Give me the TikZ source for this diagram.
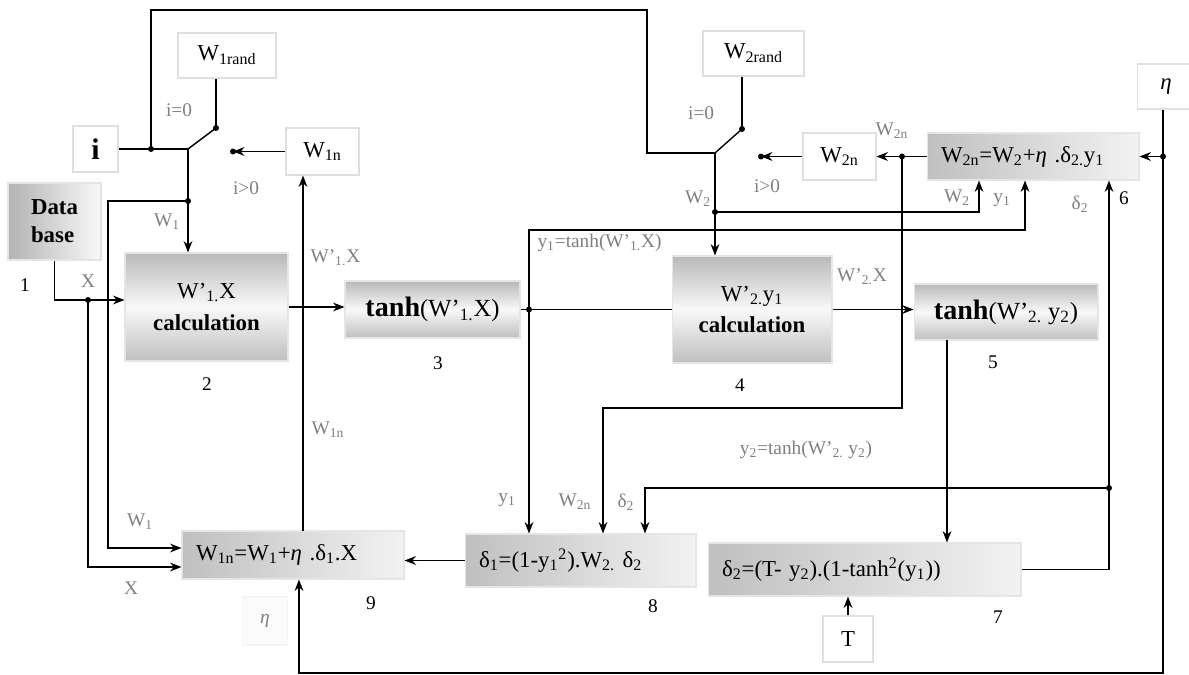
\documentclass[tikz,border=0pt]{standalone}
\usepackage{fontspec}
\setmainfont{Liberation Serif}
\usetikzlibrary{arrows.meta,calc}
\newcommand{\fs}[1]{\fontsize{#1}{#1}\selectfont}
\newcommand{\sbs}[1]{\textsubscript{#1}}
\newcommand{\sps}[1]{\textsuperscript{#1}}
\begin{document}
\begin{tikzpicture}[x=0.02cm,y=-0.02cm,
  line width=0.8pt,
  >={Stealth[length=6.5pt,width=5pt]},
  wbox/.style={draw=gray!25,fill=white,line width=0.6pt,inner sep=0pt,font=\fs{13}},
  gbox/.style={draw=gray!20,line width=0.6pt,inner sep=0pt},
  vshade/.style={top color=gray!55,bottom color=gray!50,middle color=gray!5},
  dshade/.style={left color=gray!50,right color=gray!10,middle color=gray!30},
  eqbox/.style={gbox,dshade,inner xsep=0.28cm,align=left,font=\fs{13}},
  lbl/.style={text=gray,font=\fs{11}},
  num/.style={font=\fs{11}},
  jdot/.style={fill=black}
]
\useasboundingbox (0,0) rectangle (1189,675);
\fill[white] (0,0) rectangle (1189,675);

% ---------- blocks ----------
\node[gbox,left color=gray!60,right color=gray!5,minimum width=1.86cm,minimum height=1.54cm,align=left,font=\fontsize{13}{16}\selectfont] (db) at (54.5,221.5) {\textbf{Data}\\\textbf{base}};
\node[wbox,minimum width=0.9cm,minimum height=0.92cm,font=\fs{17}] (ibox) at (95.5,149) {\textbf{i}};
\node[wbox,minimum width=1.96cm,minimum height=0.9cm] (w1r) at (227,55.5) {W\sbs{1rand}};
\node[wbox,minimum width=1.46cm,minimum height=0.94cm] (w1n) at (322.5,151.5) {W\sbs{1n}};
\node[gbox,vshade,minimum width=3.26cm,minimum height=2.16cm,align=center,font=\fontsize{13}{18}\selectfont] (c2) at (206.5,307) {W’\sbs{1.}X\\\textbf{calculation}};
\node[gbox,vshade,minimum width=3.5cm,minimum height=1.14cm,font=\fs{14}] (tb3) at (432.5,309.5) {\textbf{\fs{16}tanh}(W’\sbs{1.}X)};
\node[gbox,vshade,minimum width=3.2cm,minimum height=2.14cm,align=center,font=\fontsize{13}{18}\selectfont] (c4) at (752,309.5) {W’\sbs{2.}y\sbs{1}\\\textbf{calculation}};
\node[gbox,vshade,minimum width=3.68cm,minimum height=1.12cm,font=\fs{14}] (tb5) at (1006,312) {\textbf{\fs{16}tanh}(W’\sbs{2.} y\sbs{2})};
\node[wbox,minimum width=2.02cm,minimum height=0.9cm] (w2r) at (753.5,53.5) {W\sbs{2rand}};
\node[wbox,minimum width=1.46cm,minimum height=0.94cm] (w2n) at (839.5,156.5) {W\sbs{2n}};
\node[eqbox,text width=3.68cm,minimum height=0.94cm] (b6) at (1033,156.5) {W\sbs{2n}=W\sbs{2}+\textit{η} .δ\sbs{2.}y\sbs{1}};
\node[wbox,minimum width=1.14cm,minimum height=0.9cm] (eta) at (1166,86.5) {\textit{η}};
\node[eqbox,text width=5.7cm,minimum height=1.06cm] (b7) at (864.5,569.5) {δ\sbs{2}=(T- y\sbs{2}).(1-tanh\sps{2}(y\sbs{1}))};
\node[wbox,minimum width=1.0cm,minimum height=0.92cm] (tbox) at (848,639) {T};
\node[eqbox,text width=4.06cm,minimum height=1.06cm] (b8) at (580.5,560.5) {δ\sbs{1}=(1-y\sbs{1}\sps{2}).W\sbs{2.} δ\sbs{2}};
\node[eqbox,text width=3.88cm,minimum height=0.96cm] (b9) at (293,555) {W\sbs{1n}=W\sbs{1}+\textit{η} .δ\sbs{1}.X};
\node[draw=gray!8,fill=gray!3,minimum width=0.9cm,minimum height=0.96cm,inner sep=0pt,text=gray,font=\fs{11}] (eta9) at (265,621) {\textit{η}};

% ---------- switch and junction points ----------
\coordinate (p1) at (188,149);
\coordinate (s1a) at (216,128);
\coordinate (s1b) at (233,151.5);
\coordinate (j1) at (151,149);
\coordinate (j2) at (188,201);
\coordinate (k1) at (108,201);
\coordinate (k2) at (108,548);
\coordinate (jx) at (88,300);
\coordinate (k3) at (88,567);
\coordinate (cA) at (151,10);
\coordinate (cB) at (647,10);
\coordinate (cC) at (647,153);
\coordinate (p2) at (715,153);
\coordinate (s2a) at (742,129);
\coordinate (s2b) at (761,156.5);
\coordinate (j3) at (715,212);
\coordinate (k4) at (979,212);
\coordinate (jy) at (529,309.5);
\coordinate (k5) at (529,230);
\coordinate (k6) at (1025,230);
\coordinate (jw) at (902,156.5);
\coordinate (k7) at (902,408);
\coordinate (k8) at (603,408);
\coordinate (je) at (1163,156.5);
\coordinate (k9) at (1163,673);
\coordinate (k10) at (299,673);
\coordinate (k11) at (947,340);
\coordinate (k12) at (1109,569.5);
\coordinate (jd) at (1109,488);
\coordinate (k13) at (645,488);
\coordinate (k14) at (303,531);

% ---------- connectors ----------
\draw (ibox.east) -- (p1);
\draw (p1) -- (s1a);
\draw (w1r.south -| s1a) -- (s1a);
\draw[->] (w1n.west) -- (s1b);
\draw[->] (p1) -- (p1 |- c2.north);
\draw[->] (j2) -- (k1) -- (k2) -- (k2 -| b9.west);
\draw[->] (db.south) |- (jx) -- (jx -| c2.west);
\draw[->] (jx) -- (k3) -- (k3 -| b9.west);
\draw (j1) -- (cA) -- (cB) -- (cC) -- (p2);
\draw (p2) -- (s2a);
\draw (w2r.south -| s2a) -- (s2a);
\draw[->] (w2n.west) -- (s2b);
\draw[->] (p2) -- (p2 |- c4.north);
\draw[->] (j3) -- (k4) -- (k4 |- b6.south);
\draw[->] (c2.east) -- (c2.east -| tb3.west);
\draw (tb3.east) -- (tb3.east -| c4.west);
\draw[->] (jy) -- (k5) -- (k6) -- (k6 |- b6.south);
\draw[->] (jy) -- (jy |- b8.north);
\draw[->] (c4.east) -- (c4.east -| tb5.west);
\draw[->] (k14) -- (k14 |- w1n.south);
\draw[->] (b6.west) -- (w2n.east);
\draw[->] (jw) -- (k7) -- (k8) -- (k8 |- b8.north);
\draw[->] (eta.south -| je) -- (k9) -- (k10) -- (k10 |- b9.south);
\draw[->] (je) -- (b6.east);
\draw[->] (k11) -- (k11 |- b7.north);
\draw[->] (b7.east) -- (k12) -- (k12 |- b6.south);
\draw[->] (jd) -- (k13) -- (k13 |- b8.north);
\draw[->] (tbox.north) -- (tbox.north |- b7.south);
\draw[->] (b8.west) -- (b8.west -| b9.east);

% ---------- junction dots ----------
\foreach \c in {j1,j2,jx,j3,jy,jw,je,jd,s1a,s1b,s2a,s2b}
  \fill[jdot] (\c) circle (1.7pt);

% ---------- signal labels ----------
\node[lbl] (l1) at (179,110) {i=0};
\node[lbl] (l2) at (246,188) {i>0};
\node[lbl] (l3) at (167,222) {W\sbs{1}};
\node[lbl] (l4) at (88,281) {X};
\node[lbl,anchor=west] (l5) at (304,258) {W’\sbs{1.}X};
\node[lbl] (l6) at (328,430) {W\sbs{1n}};
\node[lbl] (l7) at (140,522) {W\sbs{1}};
\node[lbl] (l8) at (131,588) {X};
\node[lbl,anchor=west] (l9) at (531,243) {y\sbs{1}=tanh(W’\sbs{1.}X)};
\node[lbl] (l10) at (698,199) {W\sbs{2}};
\node[lbl] (l11) at (701,113) {i=0};
\node[lbl] (l12) at (767,186) {i>0};
\node[lbl] (l13) at (892,131) {W\sbs{2n}};
\node[lbl] (l14) at (957,198) {W\sbs{2}};
\node[lbl] (l15) at (1002,200) {y\sbs{1}};
\node[lbl] (l16) at (1080,204) {δ\sbs{2}};
\node[lbl] (l17) at (862,277) {W’\sbs{2.}X};
\node[lbl] (l18) at (806,450) {y\sbs{2}=tanh(W’\sbs{2.} y\sbs{2})};
\node[lbl] (l19) at (507,500) {y\sbs{1}};
\node[lbl] (l20) at (575,502) {W\sbs{2n}};
\node[lbl] (l21) at (626,502) {δ\sbs{2}};

% ---------- block numbers ----------
\node[num] (n1) at (25,285) {1};
\node[num] (n2) at (207,384) {2};
\node[num] (n3) at (438,363) {3};
\node[num] (n4) at (740,385) {4};
\node[num] (n5) at (993,362) {5};
\node[num] (n6) at (1124,198) {6};
\node[num] (n7) at (998,617) {7};
\node[num] (n8) at (653,606) {8};
\node[num] (n9) at (371,603) {9};
\end{tikzpicture}
\end{document}
